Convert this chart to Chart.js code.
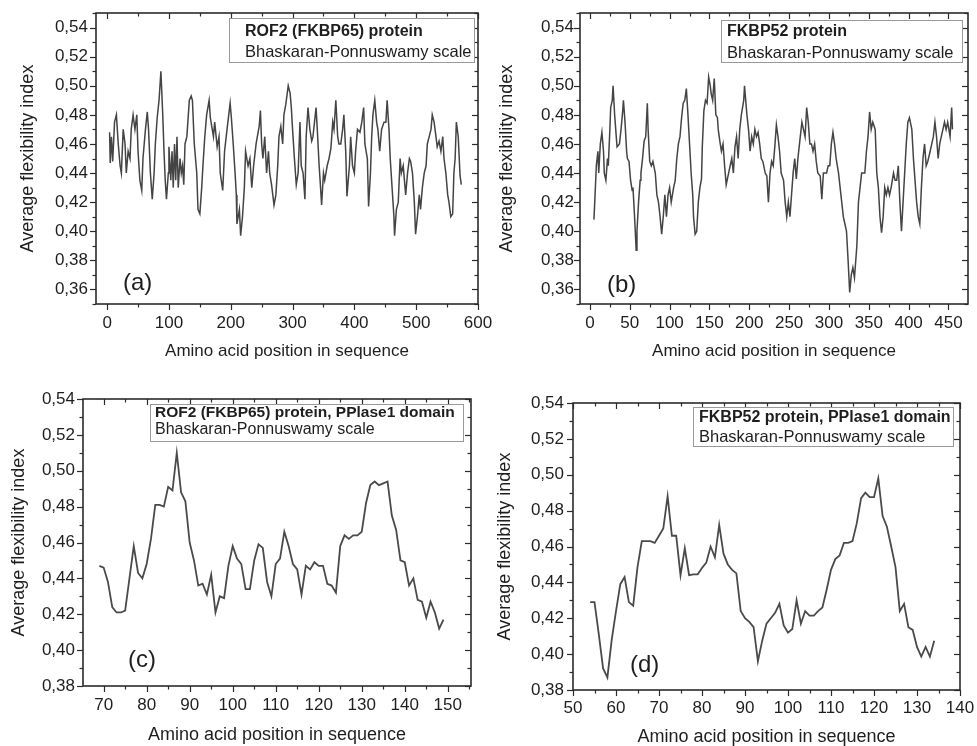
<!DOCTYPE html>
<html><head><meta charset="utf-8">
<script src="https://cdn.jsdelivr.net/npm/chart.js@4/dist/chart.umd.min.js"></script>
<style>
html,body{margin:0;padding:0;background:#fff;width:977px;height:746px;overflow:hidden}
canvas{position:absolute}
</style></head><body>
<canvas id="ca" width="520" height="372" style="left:0;top:0"></canvas>
<canvas id="cb" width="489" height="372" style="left:488px;top:0"></canvas>
<canvas id="cc" width="488" height="366" style="left:0;top:380px"></canvas>
<canvas id="cd" width="489" height="366" style="left:488px;top:380px"></canvas>
<script>
// ---------- DATA ----------
const xTitle = 'Amino acid position in sequence';
const yTitle = 'Average flexibility index';
const scaleName = 'Bhaskaran-Ponnuswamy scale';

// (a) ROF2 (FKBP65) protein
const posA = [4,5,7,9,12,15,18,21,23,26, 29,31,34,37,39,42,45,48,50,53, 56,58,62,65,67,70,73,76,78,81,
  84,87,90,92,94,96,99,100,103,105, 107,109,111,113,115,118,120,122,124,126, 129,133,136,138,141,145,147,150,153,155,
  158,161,165,167,172,174,178,181,183,187, 190,194,199,201,204,207,209,210,214,216, 219,222,224,228,231,234,237,241,243,246,
  248,250,252,255,258,261,263,266,270,273, 276,278,281,284,286,289,293,296,298,300, 303,306,309,312,314,317,320,322,325,328,
  331,333,338,340,343,345,347,350,352,356, 359,362,365,367,370,373,375,378,381,383, 386,388,392,394,397,400,402,405,409,412,
  415,417,421,423,426,428,430,433,436,438, 441,444,448,451,453,456,458,461,464,465, 468,471,474,476,479,482,483,486,489,491,
  494,497,499,502,505,507,510,513,516,518, 521,524,526,529,532,534,537,540,543,545, 548,551,553,556,559,561,563,565,568,571,573];
const valA = [.468,.447,.465,.448,.475,.48,.46,.445,.44,.47, .46,.44,.455,.45,.47,.48,.47,.48,.455,.435, .428,.45,.47,.482,.47,.44,.422,.44,.46,.478,
  .49,.51,.48,.455,.435,.422,.44,.458,.435,.455, .43,.46,.435,.465,.43,.45,.44,.445,.432,.46, .465,.49,.493,.49,.46,.44,.415,.412,.43,.445,
  .465,.48,.49,.478,.465,.475,.458,.465,.44,.428, .455,.47,.488,.478,.46,.44,.425,.405,.415,.397, .41,.43,.455,.445,.45,.43,.445,.46,.465,.472,
  .483,.46,.45,.465,.44,.455,.44,.432,.418,.425, .445,.465,.472,.46,.48,.487,.50,.495,.485,.47, .45,.432,.44,.475,.445,.44,.422,.465,.485,.47,
  .462,.465,.485,.47,.445,.432,.418,.44,.435,.445, .45,.457,.475,.47,.49,.465,.46,.46,.47,.48, .455,.424,.445,.465,.445,.44,.455,.47,.468,.475,
  .485,.46,.45,.417,.44,.465,.48,.49,.475,.47, .455,.47,.475,.475,.49,.47,.45,.43,.41,.397, .415,.42,.45,.44,.445,.43,.425,.44,.45,.448,
  .44,.42,.398,.41,.425,.415,.43,.44,.445,.46, .465,.47,.48,.475,.465,.458,.462,.455,.465,.45, .44,.425,.42,.41,.412,.44,.45,.475,.465,.438,.432];

// (b) FKBP52 protein
const posB = [5,6,8,10,11,13,15,17,18,20, 22,23,25,26,28,29,31,33,34,37, 39,41,42,44,46,47,49,51,53,54,
  56,58,59,61,63,64,66,68,70,72, 73,75,77,79,82,84,86,88,90,92, 94,96,98,100,102,105,107,109,111,113,
  115,117,119,121,123,125,127,129,130,132, 134,136,138,140,141,143,145,147,149,151, 152,154,156,158,160,161,163,165,167,169,
  171,172,174,176,178,180,182,184,186,188, 190,193,194,197,199,201,203,205,207,209, 211,213,215,217,220,222,224,226,228,230,
  232,234,236,238,240,243,245,247,249,251, 253,255,257,259,261,263,266,268,270,272, 274,276,278,280,282,284,286,289,291,293,
  295,297,299,301,303,305,307,309,312,314, 316,318,320,322,324,326,328,330,332,335, 337,339,341,343,345,347,349,351,353,355,
  358,360,362,364,366,368,370,372,374,376, 378,381,383,385,387,389,391,393,395,397, 399,401,404,406,408,410,412,414,416,418,
  420,422,424,427,429,431,433,435,437,439, 441,443,445,447,449,452,454,455];
const valB = [.408,.42,.445,.455,.44,.46,.468,.455,.44,.435, .45,.445,.47,.485,.49,.50,.48,.465,.458,.46, .47,.482,.49,.475,.455,.45,.448,.435,.428,.43,
  .41,.387,.40,.42,.435,.44,.45,.462,.465,.488, .47,.448,.445,.448,.44,.425,.42,.41,.398,.41, .425,.41,.425,.43,.42,.43,.435,.45,.46,.465,
  .478,.488,.49,.498,.48,.46,.44,.425,.41,.398, .40,.42,.43,.436,.458,.483,.49,.488,.506,.50, .495,.49,.505,.48,.478,.47,.462,.455,.46,.445,
  .432,.432,.44,.445,.45,.44,.458,.465,.45,.47, .48,.49,.50,.48,.47,.455,.465,.46,.47,.465, .468,.46,.45,.448,.44,.438,.42,.44,.448,.445,
  .458,.473,.465,.455,.44,.435,.42,.41,.42,.41, .425,.44,.45,.436,.45,.46,.475,.47,.465,.485, .475,.46,.46,.455,.46,.448,.44,.438,.422,.44,
  .44,.44,.445,.445,.46,.468,.46,.45,.44,.43, .42,.41,.405,.40,.38,.358,.37,.375,.368,.39, .42,.43,.44,.44,.44,.455,.465,.482,.47,.475,
  .47,.44,.43,.41,.399,.41,.43,.425,.43,.425, .43,.44,.435,.435,.445,.42,.40,.42,.44,.46, .475,.478,.47,.45,.435,.42,.41,.405,.43,.45,
  .46,.445,.448,.455,.46,.465,.475,.465,.45,.46, .465,.47,.475,.47,.475,.465,.485,.47];

// (c) ROF2 (FKBP65) PPIase1 domain, residues 69..149
const startC = 69;
const valC = [.447,.446,.438,.424,.421,.421,.422,.440,.458,.443, .440,.448,.462,.481,.481,.480,.491,.489,.510,.488,
  .483,.460,.450,.436,.437,.431,.442,.421,.430,.429, .447,.458,.451,.448,.434,.434,.450,.459,.457,.438,
  .430,.448,.451,.466,.458,.448,.445,.431,.447,.445, .449,.447,.447,.437,.436,.432,.458,.464,.462,.464,
  .464,.466,.482,.492,.494,.492,.493,.494,.475,.467, .450,.449,.436,.440,.428,.427,.418,.427,.421,.412,.417];

// (d) FKBP52 PPIase1 domain, residues 54..134
const startD = 54;
const valD = [.429,.429,.411,.392,.387,.408,.424,.439,.443,.429, .427,.4485,.463,.463,.463,.462,.466,.470,.488,.466,
  .466,.444,.459,.444,.4445,.4445,.448,.451,.460,.454, .472,.456,.450,.447,.445,.424,.420,.418,.415,.396,
  .4075,.417,.420,.423,.428,.416,.412,.414,.430,.417, .424,.4215,.4215,.424,.426,.436,.447,.453,.455,.462,
  .462,.463,.473,.487,.490,.4875,.4875,.498,.477,.471, .460,.4485,.424,.428,.415,.4135,.404,.3986,.404,.3986,.4075];

// tick labels
const xTicksA = [0,100,200,300,400,500,600];
const xTicksB = [0,50,100,150,200,250,300,350,400,450];
const xTicksC = [70,80,90,100,110,120,130,140,150];
const xTicksD = [50,60,70,80,90,100,110,120,130,140];
const yTicksAB = [0.36,0.38,0.40,0.42,0.44,0.46,0.48,0.50,0.52,0.54];
const yTicksCD = [0.38,0.40,0.42,0.44,0.46,0.48,0.50,0.52,0.54];

// ---------- RENDER ----------
const FF = '"Liberation Sans", Arial, Helvetica, sans-serif';
const TXT = '#1e1e1e';

const framePlugin = {
  id: 'frame',
  afterDatasetsDraw(chart, args, o) {
    const {ctx, chartArea: a} = chart;
    const xs = chart.scales.x, ys = chart.scales.y;
    ctx.save();
    const seg = (x1,y1,x2,y2) => { ctx.beginPath(); ctx.moveTo(x1,y1); ctx.lineTo(x2,y2); ctx.stroke(); };
    ctx.strokeStyle = '#2b2b2b';
    ctx.lineWidth = 1.2;
    const majX = xs.ticks.map(t => t.value), majY = ys.ticks.map(t => t.value);
    const isMaj = (arr, v) => arr.some(t => Math.abs(t - v) < 1e-7);
    const n0x = Math.ceil(xs.min / o.xMinor - 1e-9);
    for (let i = n0x; i * o.xMinor <= xs.max + 1e-9; i++) {
      const v = Math.round(i * o.xMinor * 1e6) / 1e6;
      const L = isMaj(majX, v) ? 6 : 3.5;
      const px = Math.round(xs.getPixelForValue(v)) + 0.5;
      seg(px, a.bottom, px, a.bottom + L);
      seg(px, a.top, px, a.top + L);
    }
    const n0y = Math.ceil(ys.min / o.yMinor - 1e-9);
    for (let i = n0y; i * o.yMinor <= ys.max + 1e-9; i++) {
      const v = Math.round(i * o.yMinor * 1e6) / 1e6;
      const L = isMaj(majY, v) ? 6 : 3.5;
      const py = Math.round(ys.getPixelForValue(v)) + 0.5;
      seg(a.left - L, py, a.left, py);
      seg(a.right - L, py, a.right, py);
    }
    ctx.lineWidth = 1.6;
    ctx.strokeRect(a.left, a.top, a.right - a.left, a.bottom - a.top);
    // legend box
    const b = o.box;
    ctx.fillStyle = '#fff';
    ctx.fillRect(b[0], b[1], b[2], b[3]);
    ctx.strokeStyle = '#9a9a9a';
    ctx.lineWidth = 1;
    ctx.strokeRect(b[0] + 0.5, b[1] + 0.5, b[2], b[3]);
    ctx.fillStyle = TXT;
    ctx.textBaseline = 'middle';
    ctx.textAlign = 'left';
    o.lines.forEach(l => {
      ctx.font = (l.bold ? 'bold ' : '') + l.size + 'px ' + FF;
      ctx.fillText(l.text, l.x, l.y);
    });
    ctx.font = o.tag.size + 'px ' + FF;
    ctx.fillText(o.tag.text, o.tag.x, o.tag.y);
    ctx.restore();
  }
};

function make(id, c) {
  const pts = c.pos.map((x, i) => ({x: x, y: c.val[i]}));
  new Chart(document.getElementById(id), {
    type: 'line',
    data: {datasets: [{data: pts, borderColor: c.color, borderWidth: c.lw, pointRadius: 0, tension: 0, fill: false}]},
    options: {
      responsive: false, animation: false, devicePixelRatio: 1,
      layout: {padding: c.pad},
      plugins: {legend: {display: false}, tooltip: {enabled: false},
        frame: {xMinor: c.xMinor, yMinor: 0.01, box: c.box, lines: c.lines, tag: c.tag}},
      scales: {
        x: {type: 'linear', min: c.xMin, max: c.xMax,
          afterBuildTicks: s => { s.ticks = c.xTicks.map(v => ({value: v})); },
          afterFit: s => { s.height = c.xAxisH; s.paddingLeft = 0; s.paddingRight = 0; },
          grid: {display: false, drawTicks: false}, border: {display: false},
          ticks: {padding: c.xTickPad, color: TXT, font: {size: 17, family: FF}, maxRotation: 0, autoSkip: false,
            callback: v => String(v)},
          title: {display: true, text: xTitle, color: TXT, font: {size: c.xTitleSize, family: FF, lineHeight: c.xTitleLH},
            padding: {top: 0, bottom: c.xTitlePad}}
        },
        y: {type: 'linear', min: c.yMin, max: c.yMax,
          afterBuildTicks: s => { s.ticks = c.yTicks.map(v => ({value: v})); },
          afterFit: s => { s.width = c.yAxisW; s.paddingTop = 0; s.paddingBottom = 0; },
          grid: {display: false, drawTicks: false}, border: {display: false},
          ticks: {padding: c.yTickPad, color: TXT, font: {size: 17, family: FF}, autoSkip: false,
            callback: v => v.toFixed(2).replace('.', ',')},
          title: {display: true, text: yTitle, color: TXT, font: {size: 18, family: FF, lineHeight: 1.2},
            padding: {top: c.yTitlePad, bottom: 0}}
        }
      }
    },
    plugins: [framePlugin]
  });
}

const seqC = valC.map((_, i) => startC + i);
const seqD = valD.map((_, i) => startD + i);

make('ca', {pos: posA, val: valA, color: '#444444', lw: 1.5, xMin: -18, xMax: 600, yMin: 0.35, yMax: 0.55,
  xTicks: xTicksA, yTicks: yTicksAB, xMinor: 50, pad: {left: 0, top: 13, right: 42, bottom: 0},
  yAxisW: 96, xAxisH: 68, xTickPad: 9, yTickPad: 8, yTitlePad: 17, xTitlePad: 10, xTitleSize: 17, xTitleLH: 1.2,
  box: [229, 18, 245, 44],
  lines: [{text: 'ROF2 (FKBP65) protein', bold: true, size: 16, x: 245, y: 32},
          {text: scaleName, bold: false, size: 16.5, x: 245, y: 52}],
  tag: {text: '(a)', size: 24, x: 123, y: 283}});

make('cb', {pos: posB, val: valB, color: '#444444', lw: 1.5, xMin: -12.5, xMax: 474.5, yMin: 0.35, yMax: 0.55,
  xTicks: xTicksB, yTicks: yTicksAB, xMinor: 25, pad: {left: 0, top: 13, right: 9, bottom: 0},
  yAxisW: 92, xAxisH: 68, xTickPad: 9, yTickPad: 6, yTitlePad: 8, xTitlePad: 10, xTitleSize: 17, xTitleLH: 1.2,
  box: [233, 20, 241, 42],
  lines: [{text: 'FKBP52 protein', bold: true, size: 16, x: 239, y: 32},
          {text: scaleName, bold: false, size: 16.5, x: 239, y: 53}],
  tag: {text: '(b)', size: 24, x: 119, y: 285}});

make('cc', {pos: seqC, val: valC, color: '#4a4a4a', lw: 1.8, xMin: 65.2, xMax: 155.4, yMin: 0.38, yMax: 0.54,
  xTicks: xTicksC, yTicks: yTicksCD, xMinor: 5, pad: {left: 0, top: 19, right: 17, bottom: 0},
  yAxisW: 83, xAxisH: 60, xTickPad: 9, yTickPad: 8, yTitlePad: 8, xTitlePad: 2, xTitleSize: 18, xTitleLH: 1,
  box: [150, 24, 313, 37],
  lines: [{text: 'ROF2 (FKBP65) protein, PPlase1 domain', bold: true, size: 15.5, x: 155, y: 33},
          {text: scaleName, bold: false, size: 16, x: 155, y: 50}],
  tag: {text: '(c)', size: 24, x: 128, y: 280}});

make('cd', {pos: seqD, val: valD, color: '#4a4a4a', lw: 1.8, xMin: 50, xMax: 140, yMin: 0.38, yMax: 0.54,
  xTicks: xTicksD, yTicks: yTicksCD, xMinor: 5, pad: {left: 0, top: 23, right: 17, bottom: 0},
  yAxisW: 85, xAxisH: 56, xTickPad: 8, yTickPad: 9, yTitlePad: 6, xTitlePad: 0, xTitleSize: 18, xTitleLH: 1,
  box: [205, 27, 260, 39],
  lines: [{text: 'FKBP52 protein, PPlase1 domain', bold: true, size: 16, x: 211, y: 38},
          {text: scaleName, bold: false, size: 16.5, x: 211, y: 57}],
  tag: {text: '(d)', size: 24, x: 142, y: 285}});
</script>
</body></html>
